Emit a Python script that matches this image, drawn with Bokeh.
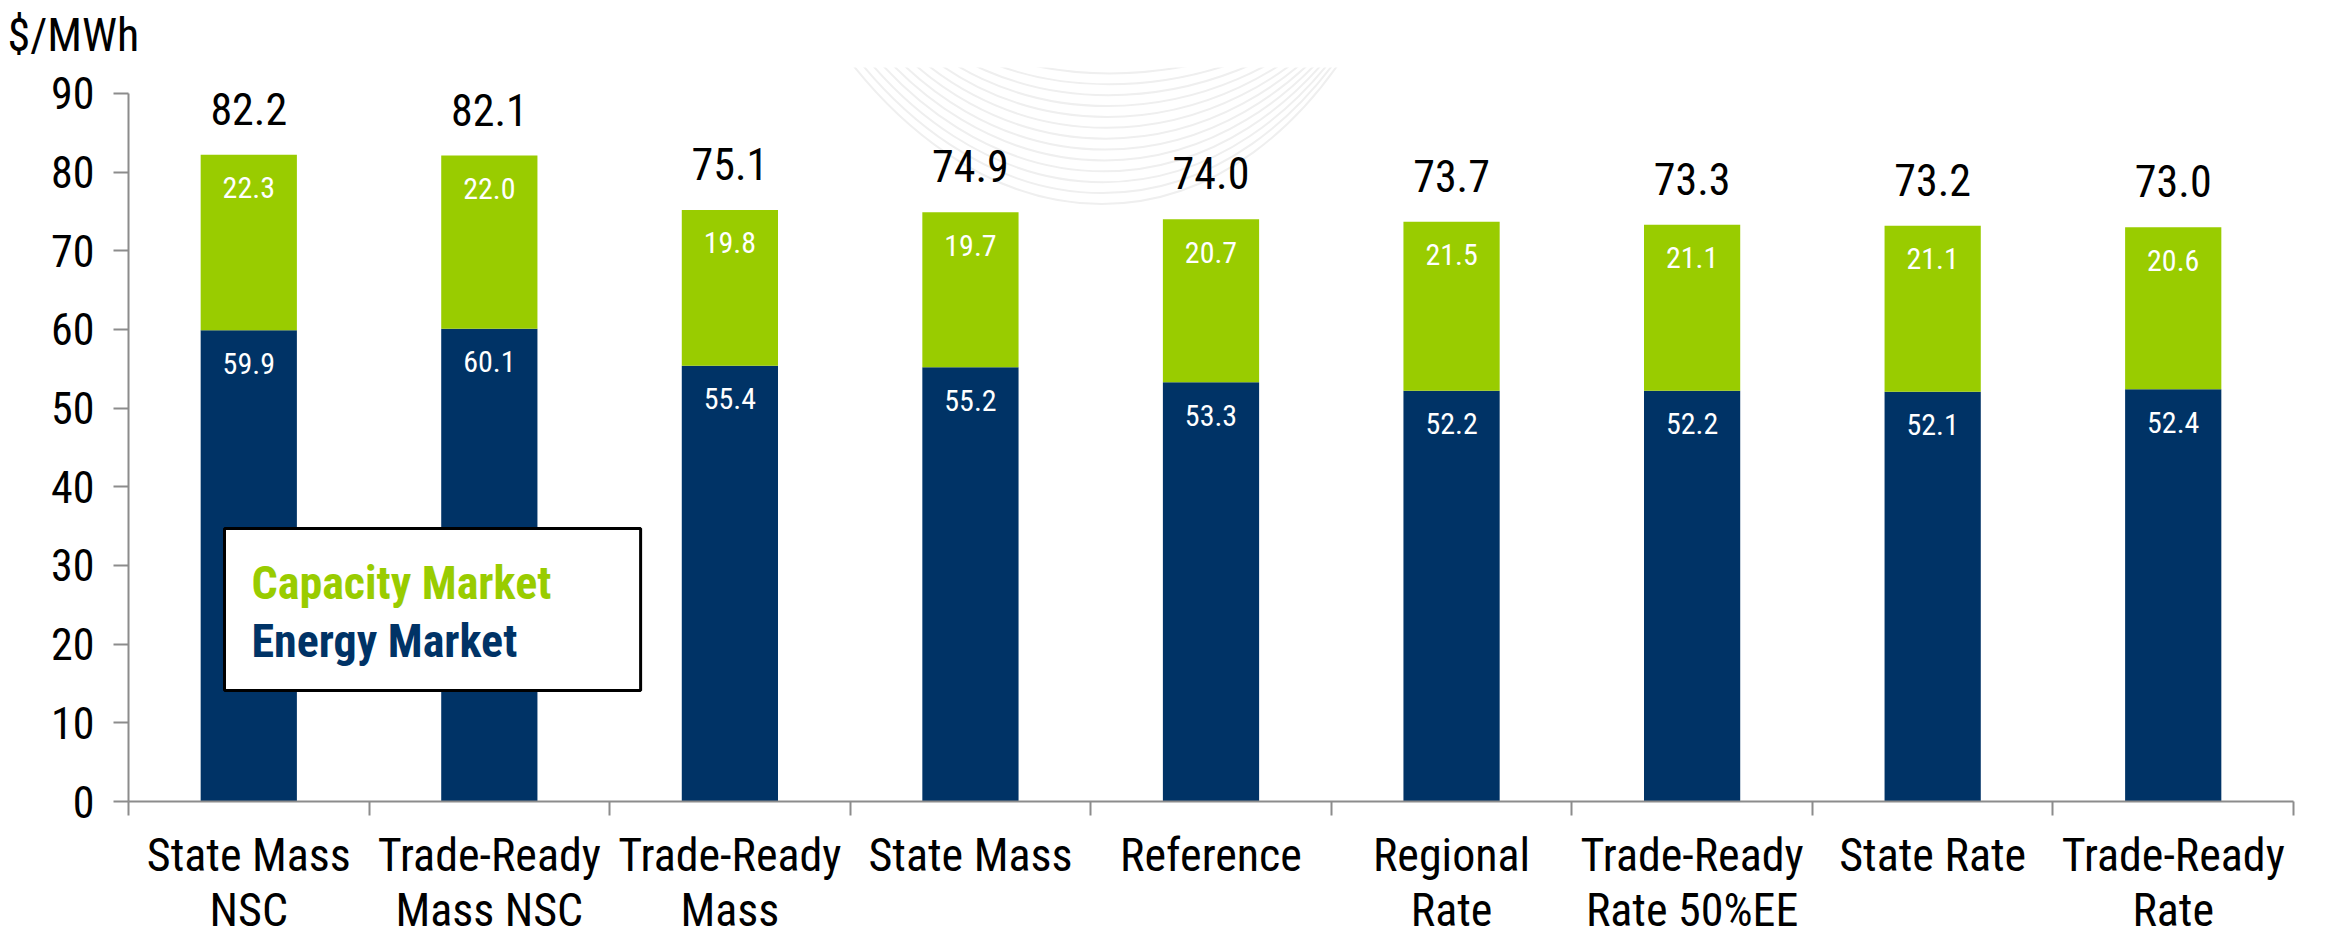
from bokeh.plotting import figure
from bokeh.models import Range1d, FixedTicker, ColumnDataSource, LinearAxis, BoxAnnotation, Label
from bokeh.core.properties import value
from bokeh.embed import file_html
from bokeh.resources import INLINE

# ---------------- data ----------------
categories = ["State Mass\nNSC", "Trade-Ready\nMass NSC", "Trade-Ready\nMass", "State Mass",
              "Reference", "Regional\nRate", "Trade-Ready\nRate 50%EE", "State Rate",
              "Trade-Ready\nRate"]
energy = [59.9, 60.1, 55.4, 55.2, 53.3, 52.2, 52.2, 52.1, 52.4]
capacity = [22.3, 22.0, 19.8, 19.7, 20.7, 21.5, 21.1, 21.1, 20.6]
totals = [82.2, 82.1, 75.1, 74.9, 74.0, 73.7, 73.3, 73.2, 73.0]
y_ticks = [0, 10, 20, 30, 40, 50, 60, 70, 80, 90]
series_names = ["Capacity Market", "Energy Market"]
unit_label = "$/MWh"

# ---------------- style ----------------
FONT = "Roboto Condensed"
NAVY = "#003366"
GREEN = "#99CC00"
GRAY = "#8c8c8c"
DECO = "#efefef"

n = len(categories)
xs = [i + 0.5 for i in range(n)]
stack_top = [e + c for e, c in zip(energy, capacity)]

source = ColumnDataSource(dict(
    x=xs, energy=energy, capacity=capacity, top=stack_top,
    total_txt=[f"{v:.1f}" for v in totals],
    e_txt=[f"{v:.1f}" for v in energy],
    c_txt=[f"{v:.1f}" for v in capacity],
))

# geometry in window pixels (used for decoration / legend placement)
PX_LEFT, PX_PER_CAT, PX_ZERO, PX_PER_UNIT = 136.0, 240.5, 802.0, 7.867
TOP_BORDER = 60  # space above the frame for the unit title

def to_dx(px):
    return (px - PX_LEFT) / PX_PER_CAT

def to_dy(py):
    return (PX_ZERO - py) / PX_PER_UNIT

frame_h = 794 - TOP_BORDER
p = figure(frame_width=2165, frame_height=frame_h,
           x_range=Range1d(0, n), y_range=Range1d(0, frame_h / PX_PER_UNIT),
           output_backend="svg", toolbar_location=None,
           x_axis_type=None, y_axis_type=None,
           min_border_left=128, min_border_right=19,
           min_border_top=TOP_BORDER, min_border_bottom=124)
p.outline_line_color = None
p.xgrid.visible = False
p.ygrid.visible = False

p.title.text = unit_label
p.title.align = "left"
p.title.offset = -121
p.title.standoff = 11
p.title.text_font = FONT
p.title.text_font_size = "46px"
p.title.text_font_style = "normal"
p.title.text_line_height = 0.8
p.title.text_color = "black"

# faint background decoration
x0s, y0s, x1s, y1s, cx0, cy0, cx1, cy1 = [], [], [], [], [], [], [], []
K = 18
for k in range(K):
    t = k / (K - 1)
    sx, ex = 814 + 140 * t, 1385 - 45 * t
    bx = 1110 - 40 * t
    d = 205 - 185 * t
    x0s.append(to_dx(sx)); y0s.append(to_dy(-2))
    x1s.append(to_dx(ex)); y1s.append(to_dy(-2))
    cx0.append(to_dx(bx - 0.45 * (bx - sx))); cy0.append(to_dy(d * 1.333))
    cx1.append(to_dx(bx + 0.5 * (ex - bx))); cy1.append(to_dy(d * 1.333))
p.bezier(x0=x0s, y0=y0s, x1=x1s, y1=y1s, cx0=cx0, cy0=cy0, cx1=cx1, cy1=cy1,
         line_color=DECO, line_width=2)

p.vbar_stack(["energy", "capacity"], x="x", width=0.4, color=[NAVY, GREEN],
             line_color=None, source=source)

p.text(x="x", y="energy", text="e_txt", source=source, text_align="center",
       text_baseline="alphabetic", y_offset=33, text_color="white",
       text_font=value(FONT), text_font_size="30px")
p.text(x="x", y="top", text="c_txt", source=source, text_align="center",
       text_baseline="alphabetic", y_offset=33, text_color="white",
       text_font=value(FONT), text_font_size="30px")
p.text(x="x", y="top", text="total_txt", source=source, text_align="center",
       text_baseline="alphabetic", y_offset=-46, text_color="black",
       text_font=value(FONT), text_font_size="44px")

yaxis = LinearAxis(ticker=FixedTicker(ticks=y_ticks), bounds=(0, 90),
                   axis_line_color=GRAY, axis_line_width=2,
                   major_tick_out=15, major_tick_in=0,
                   major_tick_line_color=GRAY, major_tick_line_width=2,
                   minor_tick_line_color=None,
                   major_label_standoff=19,
                   major_label_text_font=FONT, major_label_text_font_size="44px",
                   major_label_text_color="black")
p.add_layout(yaxis, "left")

xaxis = LinearAxis(ticker=FixedTicker(ticks=xs, minor_ticks=list(range(n + 1))),
                   major_label_overrides={x: c for x, c in zip(xs, categories)},
                   axis_line_color=GRAY, axis_line_width=2,
                   major_tick_line_color=None, major_tick_out=14, major_tick_in=0,
                   minor_tick_out=14, minor_tick_in=0,
                   minor_tick_line_color=GRAY, minor_tick_line_width=2,
                   major_label_standoff=12,
                   major_label_text_font=FONT, major_label_text_font_size="46px",
                   major_label_text_line_height=1.02,
                   major_label_text_color="black")
p.add_layout(xaxis, "below")

p.add_layout(BoxAnnotation(left=to_dx(232), right=to_dx(648), top=to_dy(529), bottom=to_dy(691),
                           fill_color="white", fill_alpha=1.0,
                           line_color="black", line_width=3, line_alpha=1.0))
p.add_layout(Label(x=to_dx(259), y=to_dy(583), text=series_names[0],
                   text_font=FONT, text_font_size="46px", text_font_style="bold",
                   text_color=GREEN, text_align="left", text_baseline="alphabetic"))
p.add_layout(Label(x=to_dx(259), y=to_dy(641), text=series_names[1],
                   text_font=FONT, text_font_size="46px", text_font_style="bold",
                   text_color=NAVY, text_align="left", text_baseline="alphabetic"))

open("out.html", "w").write(file_html(p, INLINE))
